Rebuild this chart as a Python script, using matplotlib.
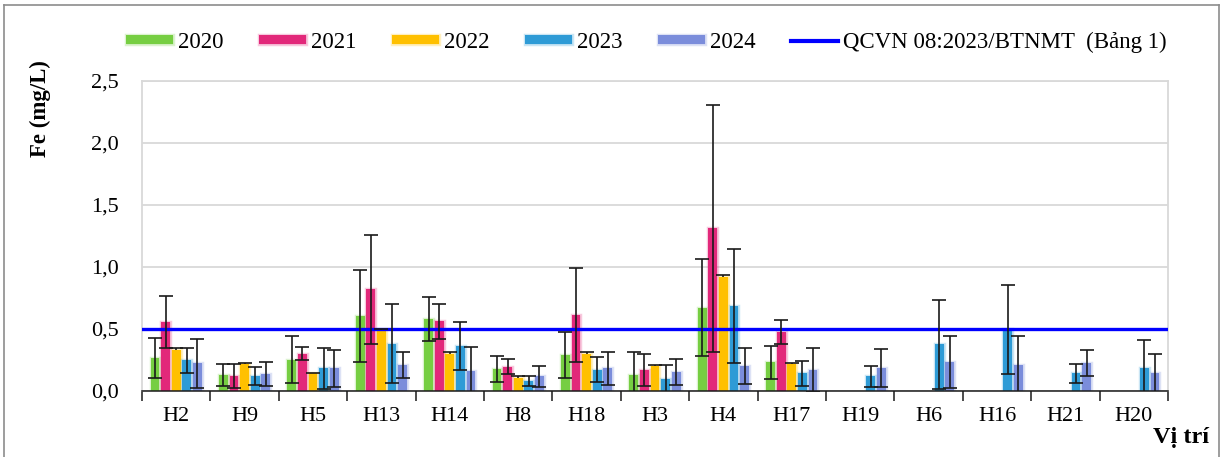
import numpy as np
import matplotlib
matplotlib.use("Agg")
import matplotlib.pyplot as plt
from matplotlib.lines import Line2D
import matplotlib.patheffects as pe

plt.rcParams['font.family'] = ['Liberation Serif', 'DejaVu Serif']

sites = ["H2", "H9", "H5", "H13", "H14", "H8", "H18", "H3", "H4", "H17",
         "H19", "H6", "H16", "H21", "H20"]
years = ["2020", "2021", "2022", "2023", "2024"]
nan = np.nan

fe_2020 = [0.265, 0.128, 0.25, 0.605, 0.58, 0.177, 0.288, 0.125, 0.67, 0.228,
           nan, nan, nan, nan, nan]
sd_2020 = [0.16, 0.09, 0.19, 0.37, 0.18, 0.105, 0.185, 0.19, 0.39, 0.135,
           nan, nan, nan, nan, nan]
fe_2021 = [0.555, 0.12, 0.30, 0.82, 0.56, 0.195, 0.61, 0.17, 1.31, 0.474,
           nan, nan, nan, nan, nan]
sd_2021 = [0.21, 0.095, 0.055, 0.44, 0.14, 0.058, 0.38, 0.13, 1.0, 0.1,
           nan, nan, nan, nan, nan]
fe_2022 = [0.325, 0.215, 0.145, 0.49, 0.30, 0.105, 0.30, 0.20, 0.915, 0.215,
           nan, nan, nan, nan, nan]
sd_2022 = [0.02, 0.01, 0.0, 0.01, 0.01, 0.015, 0.012, 0.01, 0.015, 0.01,
           nan, nan, nan, nan, nan]
fe_2023 = [0.245, 0.12, 0.18, 0.38, 0.36, 0.075, 0.17, 0.095, 0.68, 0.14,
           0.115, 0.375, 0.495, 0.139, 0.183]
sd_2023 = [0.10, 0.07, 0.165, 0.32, 0.195, 0.04, 0.10, 0.11, 0.46, 0.10,
           0.087, 0.36, 0.36, 0.08, 0.23]
fe_2024 = [0.22, 0.135, 0.18, 0.21, 0.16, 0.115, 0.18, 0.15, 0.20, 0.167,
           0.185, 0.23, 0.205, 0.22, 0.14]
sd_2024 = [0.20, 0.095, 0.147, 0.105, 0.19, 0.082, 0.13, 0.105, 0.145, 0.18,
           0.155, 0.21, 0.24, 0.105, 0.16]

limit_value = 0.5
limit_label = "QCVN 08:2023/BTNMT  (Bảng 1)"

values = [fe_2020, fe_2021, fe_2022, fe_2023, fe_2024]
errors = [sd_2020, sd_2021, sd_2022, sd_2023, sd_2024]
colors = ["#76CE42", "#E2287A", "#FFC000", "#2E9BD6", "#7B8DDB"]

fig = plt.figure(figsize=(12.25, 4.57), dpi=100)
ax = fig.add_axes([142 / 1225, 1 - 390.7 / 457, (1168 - 142) / 1225, (390.7 - 81) / 457])

x = np.arange(len(sites))
step = 0.155
width = 0.127
for i, (vals, errs, col, yr) in enumerate(zip(values, errors, colors, years)):
    pos = x + (i - 2) * step
    v = np.array(vals, dtype=float)
    e = np.array(errs, dtype=float)
    bars = ax.bar(pos, v, width, color=col, zorder=2, label=yr)
    for b in bars:
        b.set_path_effects([pe.withStroke(linewidth=2.5, foreground=col, alpha=0.25),
                            pe.Normal()])
    if yr == "2022":
        # upper-only error bars
        yerr = np.vstack([np.zeros_like(e), e])
    else:
        yerr = e
    eb = ax.errorbar(pos, v, yerr=yerr, fmt="none", ecolor="#1a1a1a", elinewidth=1.2,
                     capsize=5, capthick=1.2, zorder=4)
    if yr == "2022":
        eb[1][0].set_visible(False)

ax.axhline(limit_value, color="#0000FF", lw=2.4, zorder=3)

ax.set_xlim(-0.5, len(sites) - 0.5)
ax.set_ylim(0, 2.5)
yt = np.arange(0, 2.51, 0.5)
ax.set_yticks(yt)
ax.set_yticklabels([f"{t:.1f}".replace(".", ",") for t in yt], fontsize=16)
ax.tick_params(axis="y", length=0, pad=17)
ax.yaxis.grid(True, color="#D9D9D9", lw=1.3, zorder=0)
ax.set_axisbelow(True)

ax.set_xticks(np.arange(len(sites) + 1) - 0.5)
ax.set_xticklabels([])
ax.set_xticks(x, minor=True)
ax.set_xticklabels(sites, minor=True, fontsize=16)
ax.tick_params(axis="x", which="major", length=7, width=1.1, color="#1a1a1a", direction="out")
ax.tick_params(axis="x", which="minor", length=0, pad=12)

for side in ["left", "top", "right"]:
    ax.spines[side].set_color("#D9D9D9")
    ax.spines[side].set_linewidth(1.3)
ax.spines["bottom"].set_color("#1a1a1a")
ax.spines["bottom"].set_linewidth(1.1)

fig.text(40 / 1225, 1 - 109 / 457, "Fe (mg/L)", rotation=90, ha="center", va="center",
         fontsize=16.5, fontweight="bold")
fig.text(1181 / 1225, 1 - 438 / 457, "Vị trí", ha="center", va="center",
         fontsize=17.5, fontweight="bold")

handles, labels = ax.get_legend_handles_labels()
handles = handles + [Line2D([], [], color="#0000FF", lw=3)]
labels = labels + [limit_label]
fig.legend(handles, labels, loc="center left", bbox_to_anchor=(126 / 1225, 1 - 42 / 457),
           ncol=6, frameon=False, fontsize=16.5, handlelength=2.05, handleheight=0.22,
           handletextpad=0.22, columnspacing=1.55, borderpad=0, borderaxespad=0)

# outer chart frame
frame_col = "#8C8C8C"
fig.add_artist(Line2D([4 / 1225, 4 / 1225], [0, 1 - 5 / 457], transform=fig.transFigure,
                      color=frame_col, lw=1.2))
fig.add_artist(Line2D([4 / 1225, 1219 / 1225], [1 - 5 / 457, 1 - 5 / 457],
                      transform=fig.transFigure, color=frame_col, lw=1.2))
fig.add_artist(Line2D([1219 / 1225, 1219 / 1225], [0, 1 - 5 / 457], transform=fig.transFigure,
                      color=frame_col, lw=1.2))

fig.savefig("out.png", dpi=100)
